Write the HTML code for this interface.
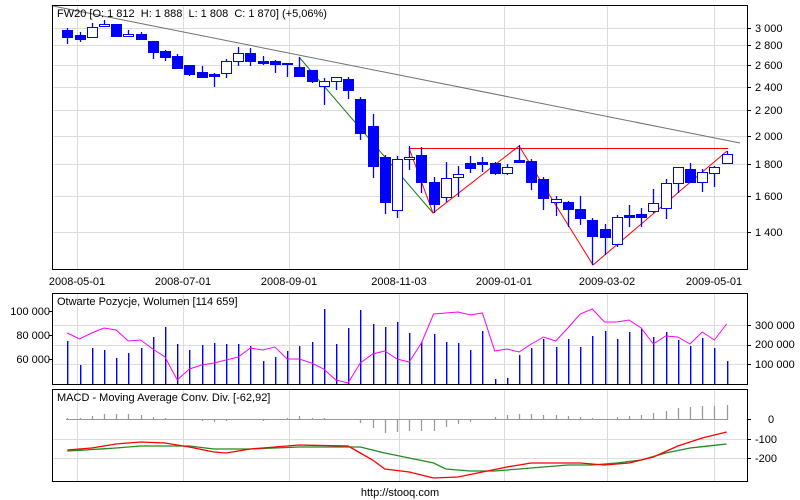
<!DOCTYPE html>
<html><head><meta charset="utf-8"><style>
html,body{margin:0;padding:0;background:#fff;}
svg{display:block;}
text{font-family:"Liberation Sans",sans-serif;font-size:11px;fill:#000;}
.pre{white-space:pre;}
</style></head><body>
<svg id="s" width="800" height="500" viewBox="0 0 800 500" xmlns="http://www.w3.org/2000/svg">
<rect width="800" height="500" fill="#fff"/>
<g id="grid" stroke="#dcdcdc" stroke-width="1"></g>
<g id="plot"></g>
<g fill="none" stroke="#000" stroke-width="1">
<rect x="52.5" y="5.5" width="695" height="264"/>
<rect x="52.5" y="293.5" width="695" height="91"/>
<rect x="52.5" y="389.5" width="695" height="92"/>
</g>
<g id="ticks" stroke="#000"></g>
<text class="pre" x="57" y="17">FW20 [O: 1 812  H: 1 888  L: 1 808  C: 1 870] (+5,06%)</text>
<g text-anchor="start">
<text x="755" y="32">3 000</text><text x="755" y="49">2 800</text><text x="755" y="69">2 600</text>
<text x="755" y="91">2 400</text><text x="755" y="114">2 200</text><text x="755" y="140">2 000</text>
<text x="755" y="168">1 800</text><text x="755" y="200">1 600</text><text x="755" y="236">1 400</text>
<text x="755" y="329">300 000</text><text x="755" y="348">200 000</text><text x="755" y="368">100 000</text>
<text x="768" y="423">0</text><text x="755" y="443">-100</text><text x="755" y="462">-200</text>
</g>
<g text-anchor="end">
<text x="50" y="315">100 000</text><text x="50" y="339">80 000</text><text x="50" y="363">60 000</text>
</g>
<g text-anchor="middle">
<text x="77" y="285">2008-05-01</text><text x="183" y="285">2008-07-01</text><text x="289" y="285">2008-09-01</text>
<text x="399" y="285">2008-11-03</text><text x="504" y="285">2009-01-01</text><text x="607" y="285">2009-03-02</text>
<text x="714" y="285">2009-05-01</text>
<text x="400" y="496">http://stooq.com</text>
</g>
<text x="57" y="305">Otwarte Pozycje, Wolumen [114 659]</text>
<text x="57" y="401">MACD - Moving Average Conv. Div. [-62,92]</text>
</svg>
<script>
var NS="http://www.w3.org/2000/svg";
function el(p,t,a){var e=document.createElementNS(NS,t);for(var k in a)e.setAttribute(k,a[k]);document.getElementById(p).appendChild(e);return e;}
function X(i){return 67.3+12.21*i;}
var vx=[77,183,289,399,504,607,714];
vx.forEach(function(x){[[6,269],[294,384],[390,481]].forEach(function(r){el("grid","line",{x1:x+.5,x2:x+.5,y1:r[0],y2:r[1]});});});
[28,45,65,87,110,136,164,196,232].forEach(function(y){el("grid","line",{x1:53,x2:747,y1:y+.5,y2:y+.5});el("ticks","line",{x1:748,x2:751,y1:y+.5,y2:y+.5});});
[325,345,364].forEach(function(y){el("grid","line",{x1:53,x2:747,y1:y+.5,y2:y+.5});el("ticks","line",{x1:748,x2:751,y1:y+.5,y2:y+.5});});
[311,335,359].forEach(function(y){el("ticks","line",{x1:49,x2:52,y1:y+.5,y2:y+.5});});
[439,458].forEach(function(y){el("grid","line",{x1:53,x2:747,y1:y+.5,y2:y+.5});el("ticks","line",{x1:748,x2:751,y1:y+.5,y2:y+.5});});
el("ticks","line",{x1:748,x2:751,y1:419.5,y2:419.5});
var C=[[28,44,30,37,1],[32,42,35,39,1],[23,37,27,37,0],[20,26,24,26,0],[24,37,24,36,1],[30,37,34,36,0],[32,39,34,39,1],[41,59,41,52,1],[50,61,51,57,1],[54,68,56,68,1],[65,76,65,74,1],[66,77,72,77,1],[73,87,74,76,1],[59,78,61,73,0],[47,66,53,61,0],[48,66,53,61,1],[56,65,61,63,1],[60,73,61,64,1],[63,77,63,64,1],[57,77,67,76,1],[70,83,70,81,1],[78,105,81,86,0],[77,90,77,81,0],[77,99,79,90,1],[97,140,99,133,1],[114,178,126,166,1],[155,214,157,202,1],[156,218,159,210,0],[146,170,157,159,0],[147,193,155,182,1],[177,213,182,204,1],[162,202,178,197,0],[166,197,174,177,0],[156,173,163,168,1],[157,172,162,164,1],[162,175,163,173,1],[164,175,167,173,0],[145,161,160,162,1],[159,190,161,182,1],[177,210,179,198,1],[196,216,199,202,0],[201,227,202,209,1],[196,225,209,218,1],[218,265,220,236,1],[224,255,229,237,1],[215,247,217,244,0],[205,227,215,217,1],[208,227,214,217,1],[189,213,203,211,0],[179,219,183,208,0],[167,193,167,183,0],[163,183,169,182,1],[169,192,172,182,0],[166,187,167,173,0],[151,163,154,163,0]];
el("plot","line",{x1:53,y1:6,x2:740,y2:143,stroke:"#707070","stroke-width":1});
el("plot","polyline",{points:"299,57 433,213",fill:"none",stroke:"#1a7a1a","stroke-width":1});
el("plot","line",{x1:409,y1:148.5,x2:728,y2:148.5,stroke:"#ff0000","stroke-width":1});
el("plot","polyline",{points:"409,148 433,213 519,146 593,265 727,151",fill:"none",stroke:"#ff0000","stroke-width":1});
C.forEach(function(c,i){var x=Math.round(X(i));
el("plot","line",{x1:x+.5,x2:x+.5,y1:c[0],y2:c[1],stroke:"#0000ff","stroke-width":1.3});
var h=Math.max(c[3]-c[2],1);
if(c[4])el("plot","rect",{x:x-5,y:c[2],width:11,height:h+1,fill:"#0000ff"});
else el("plot","rect",{x:x-4.5,y:c[2]+.5,width:10,height:h,fill:"#fff",stroke:"#0000ff","stroke-width":1});
});
var V=[341,365,348,350,358,353,348,337,327,344,350,345,343,344,344,346,361,357,351,346,342,309,344,328,310,324,327,322,333,342,334,342,343,350,331,379,378,355,348,339,347,339,347,336,331,339,332,329,337,332,340,346,338,348,361];
V.forEach(function(v,i){var x=Math.round(X(i));el("plot","rect",{x:x,y:v,width:1.4,height:384-v,fill:"#0000ff"});});
var OI=[333,339,333,328,330,341,340,349,357,380,369,365,363,360,357,348,350,347,359,359,363,369,380,383,363,354,351,359,362,343,314,313,312,315,313,351,349,352,344,337,341,328,314,309,322,322,320,328,344,336,337,344,332,340,324];
el("plot","polyline",{points:OI.map(function(y,i){return X(i).toFixed(1)+","+y;}).join(" "),fill:"none",stroke:"#ff00ff","stroke-width":1});
var H=[418,418,416,414,414,414,415,417,418,419,420,421,422,421,420,420,421,420,418,416,418,418,419,419,423,428,433,432,431,431,431,427,424,422,419,417,415,414,414,415,415,416,417,418,419,417,416,415,413,411,408,407,406,406,405];
el("plot","line",{x1:66,x2:728,y1:419.5,y2:419.5,stroke:"#999"});
H.forEach(function(h,i){var x=Math.round(X(i))+.5;el("plot","line",{x1:x,x2:x,y1:419.5,y2:h,stroke:"#999","stroke-width":1.3});});
function interp(pts){var out=[];for(var i=0;i<55;i++){for(var k=0;k<pts.length-1;k++){if(i>=pts[k][0]&&i<=pts[k+1][0]){var t=(i-pts[k][0])/((pts[k+1][0]-pts[k][0])||1);out.push(X(i).toFixed(1)+","+(pts[k][1]+t*(pts[k+1][1]-pts[k][1])).toFixed(1));break;}}}return out.join(" ");}
var G=[[0,451],[4,448],[6,446],[10,446],[12,449],[15,449],[19,447],[24,447],[26,453],[28,458],[30,463],[31,469],[33,471],[35,471],[37,469],[39,467],[41,465],[43,465],[45,463],[47,460],[49,453],[51,448],[54,444]];
var R=[[0,450],[2,448],[4,444],[6,442],[8,443],[10,447],[12,452],[13,453],[15,449],[17,447],[19,445],[23,446],[24,453],[25,460],[26,469],[28,472],[30,478],[32,477],[34,472],[36,467],[38,463],[42,463],[44,465],[46,463],[48,457],[50,446],[52,438],[54,432]];
el("plot","polyline",{points:interp(G),fill:"none",stroke:"#228b22","stroke-width":1.3});
el("plot","polyline",{points:interp(R),fill:"none",stroke:"#ff0000","stroke-width":1.3});
</script>
</body></html>
